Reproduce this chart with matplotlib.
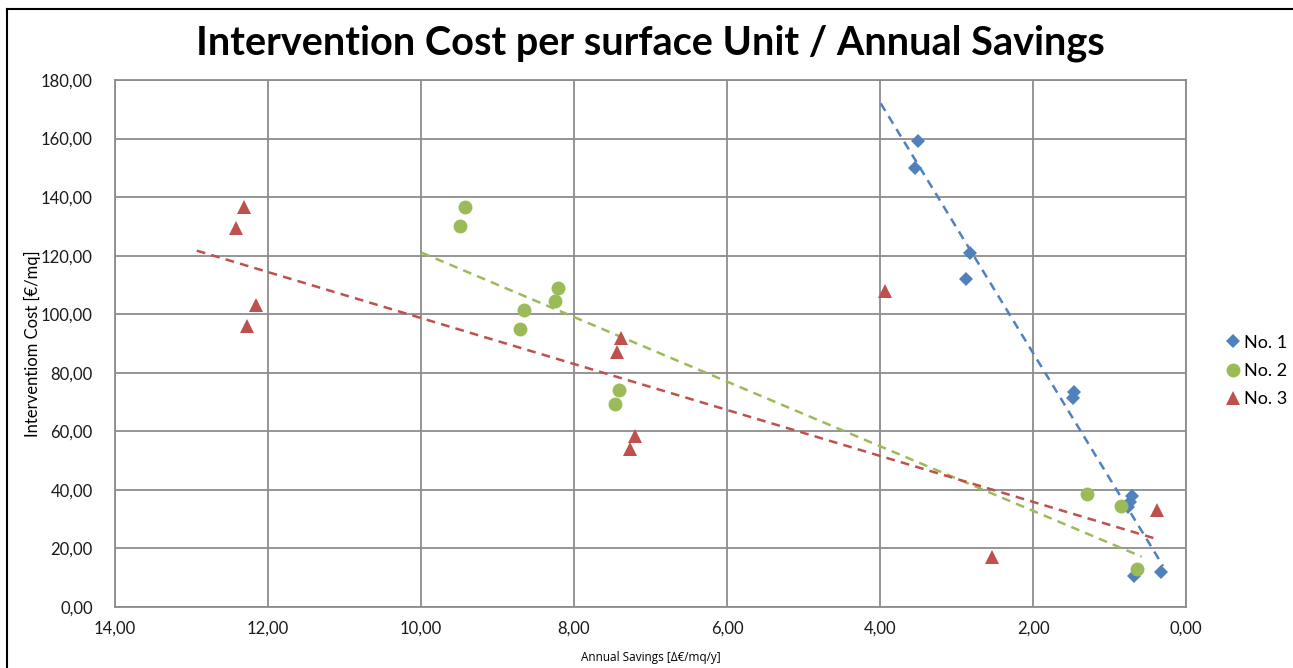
import matplotlib
matplotlib.use("Agg")
import matplotlib.pyplot as plt
from matplotlib.ticker import FuncFormatter, MultipleLocator
from matplotlib.lines import Line2D

# Data (x = annual savings, y = intervention cost)
no1_x = [3.50, 3.54, 2.82, 2.88, 1.46, 1.48, 0.70, 0.73, 0.76, 0.68, 0.33]
no1_y = [159.0, 150.0, 121.0, 112.0, 73.5, 71.5, 38.0, 36.0, 34.0, 10.6, 12.0]

no2_x = [9.43, 9.49, 8.21, 8.25, 8.65, 8.71, 7.41, 7.46, 1.29, 0.85, 0.64]
no2_y = [136.5, 130.0, 109.0, 104.5, 101.5, 95.0, 74.0, 69.5, 38.5, 34.6, 13.0]

no3_x = [12.32, 12.42, 12.16, 12.27, 3.93, 7.38, 7.44, 7.20, 7.27, 2.53, 0.38]
no3_y = [136.5, 129.5, 103.0, 96.0, 108.0, 92.0, 87.0, 58.5, 54.0, 17.0, 33.0]

# trendline end points as seen in the picture
trend1_x = [3.99, 0.30]
trend1_y = [172.0, 14.0]
trend2_x = [9.99, 0.58]
trend2_y = [121.0, 17.2]
trend3_x = [12.93, 0.38]
trend3_y = [121.7, 23.2]

labels = ["No. 1", "No. 2", "No. 3"]
blue, green, red = "#4F81BD", "#9BBB59", "#C0504D"

plt.rcParams["font.family"] = ["Lato", "DejaVu Sans"]

fig = plt.figure(figsize=(12.93, 6.68), dpi=100)
ax = fig.add_axes([115 / 1293, 1 - 607 / 668, (1186 - 115) / 1293, (607 - 80) / 668])

# trendlines
dash = (0, (3.5, 2.5))
ax.plot(trend1_x, trend1_y, color=blue, lw=1.8, linestyle=dash, zorder=3)
ax.plot(trend2_x, trend2_y, color=green, lw=1.8, linestyle=dash, zorder=3)
ax.plot(trend3_x, trend3_y, color=red, lw=1.8, linestyle=dash, zorder=3)

# points
ax.plot(no1_x, no1_y, "D", color=blue, ms=7.5, mew=0, label=labels[0], zorder=4)
ax.plot(no2_x, no2_y, "o", color=green, ms=10, mew=0, label=labels[1], zorder=4)
ax.plot(no3_x, no3_y, "^", color=red, ms=10, mew=0, label=labels[2], zorder=4)

ax.set_xlim(14, 0)
ax.set_ylim(0, 180)
ax.xaxis.set_major_locator(MultipleLocator(2))
ax.yaxis.set_major_locator(MultipleLocator(20))
fmt = FuncFormatter(lambda v, p: f"{v:.2f}".replace(".", ","))
ax.xaxis.set_major_formatter(fmt)
ax.yaxis.set_major_formatter(fmt)
ax.tick_params(length=0, labelsize=12, colors="#1a1a1a")
ax.tick_params(axis="x", pad=10)
ax.tick_params(axis="y", pad=16)

ax.grid(True, color="#8c8c8c", lw=1.3)
ax.set_axisbelow(True)
for s in ax.spines.values():
    s.set_color("#8c8c8c")
    s.set_linewidth(1.3)

ax.set_ylabel("Interventiom Cost [€/mq]", fontsize=12, labelpad=0)
ax.set_xlabel("Annual Savings [Δ€/mq/y]", fontsize=8.5, labelpad=10,
              family=["Open Sans", "DejaVu Sans"])

fig.text(0.503, 1 - 43 / 668, "Intervention Cost per surface Unit / Annual Savings",
         ha="center", va="center", fontsize=28.5, fontweight="bold")

ax.legend(loc="center left", bbox_to_anchor=(1210 / 1293, 1 - 371 / 668),
          bbox_transform=fig.transFigure, frameon=False, fontsize=13,
          handlelength=0.8, handletextpad=0.2, labelspacing=0.68)

# outer frame (top and left edges visible)
fig.add_artist(Line2D([7 / 1293, 7 / 1293], [0, 1 - 9 / 668], color="black", lw=1.5,
                      transform=fig.transFigure))
fig.add_artist(Line2D([7 / 1293, 1], [1 - 9 / 668, 1 - 9 / 668], color="black", lw=1.5,
                      transform=fig.transFigure))

fig.savefig("out.png", dpi=100)
